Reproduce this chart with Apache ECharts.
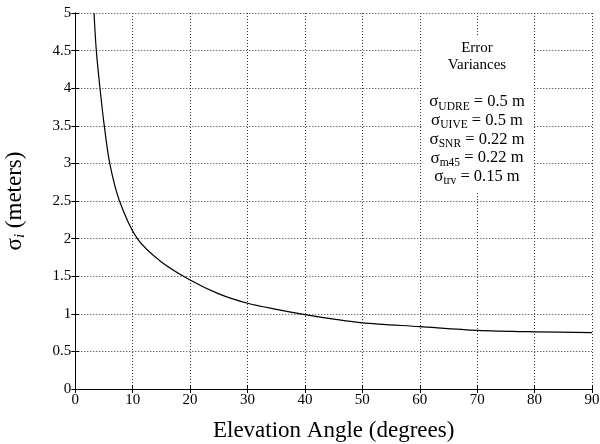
<!DOCTYPE html>
<html>
<head>
<meta charset="utf-8">
<script src="https://cdn.jsdelivr.net/npm/echarts@6/dist/echarts.min.js"></script>
<style>
    html, body {margin: 0; padding: 0; background: #fff;}
    #chart {width: 600px; height: 444px;}
</style>
</head>
<body>
<div id="chart"></div>
<script>
// curve
var angles = [3.26, 3.66, 4.3, 5.05, 6.0, 7.7, 10.8, 15, 20, 25, 30, 35, 40, 45, 50, 60, 70, 80, 90];
var sigmas = [5.0, 4.5, 4.0, 3.5, 3.0, 2.5, 2.0, 1.69, 1.45, 1.265, 1.14, 1.06, 0.99, 0.93, 0.88, 0.83, 0.78, 0.76, 0.75];
var xTicks = {min: 0, max: 90, step: 10};
var yTicks = {min: 0, max: 5, step: 0.5};
var boxLines = [
    ['Error', ''],
    ['Variances', '']
];
var sigmaLines = [
    ['UDRE', ' = 0.5 m'],
    ['UIVE', ' = 0.5 m'],
    ['SNR', ' = 0.22 m'],
    ['m45', ' = 0.22 m'],
    ['trv', ' = 0.15 m']
];

var serif = '"Liberation Serif", "DejaVu Serif", serif';
var pts = [];
for (var i = 0; i < angles.length; i++) {
    pts.push([angles[i], sigmas[i]]);
}

var e = echarts.init(document.getElementById('chart'));

//legend text box
var g = [];
var cx = 477;
g.push({
    type: 'rect', z: 5,
    shape: {x: 422, y: 36, width: 111, height: 156},
    style: {fill: '#fff'}
});
var ty = [48, 65];
for (var k = 0; k < boxLines.length; k++) {
    g.push({
        type: 'text', z: 6, x: cx, y: ty[k],
        style: {text: boxLines[k][0], font: '15px ' + serif, fill: '#000', align: 'center', verticalAlign: 'middle'}
    });
}
for (var j = 0; j < sigmaLines.length; j++) {
    g.push({
        type: 'text', z: 6, x: cx, y: 102 + j * 18.7,
        style: {
            text: '{s|σ}{b|' + sigmaLines[j][0] + '}{t|' + sigmaLines[j][1] + '}',
            align: 'center', verticalAlign: 'middle',
            rich: {
                s: {fontFamily: serif, fontSize: 17, fill: '#000', height: 20},
                b: {fontFamily: serif, fontSize: 11.5, fill: '#000', height: 20, padding: [9, 0, 0, 0]},
                t: {fontFamily: serif, fontSize: 16.5, fill: '#000', height: 20}
            }
        }
    });
}

var option = {
    animation: false,
    grid: {left: 75.3, right: 8, top: 13, bottom: 55, containLabel: false, outerBoundsMode: 'none'},
    xAxis: [{
        type: 'value',
        min: xTicks.min, max: xTicks.max, interval: xTicks.step,
        name: 'Elevation Angle (degrees)',
        nameLocation: 'middle',
        nameGap: 30,
        nameTextStyle: {fontFamily: serif, fontSize: 23, color: '#000'},
        axisLine: {lineStyle: {color: '#000', width: 1}},
        axisTick: {inside: true, length: 4, lineStyle: {color: '#000'}},
        axisLabel: {fontFamily: serif, fontSize: 15, color: '#000', margin: 4},
        splitLine: {show: true, lineStyle: {color: '#333', type: [1, 2], width: 1}}
    }, {
        type: 'value', position: 'top',
        min: xTicks.min, max: xTicks.max, interval: xTicks.step,
        axisLine: {show: true, lineStyle: {color: '#000', width: 1}},
        axisTick: {show: true, inside: true, length: 4, lineStyle: {color: '#000'}},
        axisLabel: {show: false},
        splitLine: {show: false}
    }],
    yAxis: [{
        type: 'value',
        min: yTicks.min, max: yTicks.max, interval: yTicks.step,
        name: '{s|σ}{i|i}{s| (meters)}',
        nameLocation: 'middle',
        nameGap: 42,
        nameTextStyle: {
            color: '#000',
            rich: {
                s: {fontFamily: serif, fontSize: 23, color: '#000', height: 26},
                i: {fontFamily: serif, fontSize: 15, fontStyle: 'italic', color: '#000', height: 26, padding: [11, 0, 0, 0]}
            }
        },
        axisLine: {show: true, lineStyle: {color: '#000', width: 1}},
        axisTick: {show: true, inside: true, length: 4, lineStyle: {color: '#000'}},
        axisLabel: {fontFamily: serif, fontSize: 15, color: '#000', margin: 4},
        splitLine: {show: true, lineStyle: {color: '#333', type: [1, 2], width: 1}}
    }, {
        type: 'value', position: 'right',
        min: yTicks.min, max: yTicks.max, interval: yTicks.step,
        axisLine: {show: true, lineStyle: {color: '#000', width: 1}},
        axisTick: {show: true, inside: true, length: 4, lineStyle: {color: '#000'}},
        axisLabel: {show: false},
        splitLine: {show: false}
    }],
    series: [{
        type: 'line',
        data: pts,
        smooth: 0.3,
        showSymbol: false,
        clip: true,
        lineStyle: {color: '#000', width: 1.2}
    }],
    graphic: g
};
e.setOption(option);
</script>
</body>
</html>
